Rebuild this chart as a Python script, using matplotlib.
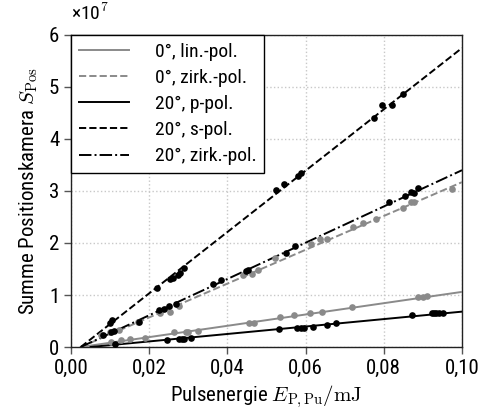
import numpy as np
import matplotlib.pyplot as plt
from matplotlib.ticker import FuncFormatter

plt.rcParams['font.family'] = ['Roboto Condensed', 'Roboto', 'DejaVu Sans']
plt.rcParams['mathtext.fontset'] = 'cm'

# Messwerte (Energie in mJ, Summe in 1e7) --------------------
x_lin0 = [0.0102, 0.0128, 0.0152, 0.0190, 0.0264, 0.0294, 0.0300, 0.0324, 0.0454,
          0.0469, 0.0535, 0.0570, 0.0610, 0.0642, 0.0719, 0.0887, 0.0899, 0.0910]
y_lin0 = [0.10, 0.13, 0.15, 0.18, 0.28, 0.29, 0.29, 0.31, 0.47,
          0.47, 0.57, 0.62, 0.66, 0.67, 0.76, 0.96, 0.97, 0.99]

x_zirk0 = [0.0078, 0.0100, 0.0124, 0.0172, 0.0228, 0.0253, 0.0277, 0.0441, 0.0462,
           0.0479, 0.0522, 0.0613, 0.0637, 0.0656, 0.0720, 0.0748, 0.0780, 0.0848,
           0.0869, 0.0877, 0.0974]
y_zirk0 = [0.23, 0.29, 0.33, 0.49, 0.65, 0.68, 0.78, 1.385, 1.40,
           1.49, 1.71, 1.98, 2.07, 2.07, 2.30, 2.38, 2.46, 2.67,
           2.78, 2.78, 3.03]

x_p20 = [0.0113, 0.0245, 0.0275, 0.0283, 0.0289, 0.0306, 0.0532, 0.0579, 0.0587,
         0.0596, 0.0618, 0.0656, 0.0678, 0.0873, 0.0924, 0.0928, 0.0933, 0.0940,
         0.0952]
y_p20 = [0.05, 0.135, 0.15, 0.15, 0.16, 0.18, 0.34, 0.36, 0.36,
         0.36, 0.39, 0.43, 0.46, 0.61, 0.65, 0.65, 0.65, 0.65,
         0.66]

x_s20 = [0.0100, 0.0104, 0.0220, 0.0254, 0.0260, 0.0273, 0.0280, 0.0290, 0.0524,
         0.0546, 0.0581, 0.0588, 0.0775, 0.0796, 0.0820, 0.0848]
y_s20 = [0.455, 0.52, 1.13, 1.31, 1.32, 1.38, 1.43, 1.51, 3.02,
         3.13, 3.29, 3.34, 4.40, 4.65, 4.65, 4.86]

x_zirk20 = [0.0081, 0.0102, 0.0111, 0.0173, 0.0226, 0.0239, 0.0251, 0.0269, 0.0362,
            0.0384, 0.0448, 0.0452, 0.0550, 0.0573, 0.0814, 0.0854, 0.0869, 0.0876,
            0.0888]
y_zirk20 = [0.23, 0.29, 0.31, 0.49, 0.71, 0.74, 0.78, 0.83, 1.21,
            1.29, 1.47, 1.49, 1.81, 1.94, 2.79, 2.90, 2.99, 2.96,
            3.05]

# Ausgleichsgeraden: Start- und Endpunkt
fit_lin0 = ([0.0025, 0.10], [0.0, 1.06])
fit_zirk0 = ([0.0025, 0.10], [0.0, 3.17])
fit_p20 = ([0.0050, 0.10], [0.0, 0.68])
fit_s20 = ([0.0025, 0.10], [0.0, 5.75])
fit_zirk20 = ([0.0025, 0.10], [0.0, 3.40])

labels = ['0°, lin.-pol.', '0°, zirk.-pol.', '20°, p-pol.', '20°, s-pol.', '20°, zirk.-pol.']
y_ticks = [0, 1, 2, 3, 4, 5, 6]
gray = '#8a8a8a'
serien = [
    (x_lin0, y_lin0, fit_lin0, gray, '-'),
    (x_zirk0, y_zirk0, fit_zirk0, gray, '--'),
    (x_p20, y_p20, fit_p20, 'black', '-'),
    (x_s20, y_s20, fit_s20, 'black', '--'),
    (x_zirk20, y_zirk20, fit_zirk20, 'black', '-.'),
]

fig = plt.figure(figsize=(4.81, 4.2), dpi=100)
ax = fig.add_axes([0.1476, 0.1738, 0.8129, 0.7429])

handles = []
for (xs, ys, fit, col, ls), lab in zip(serien, labels):
    h, = ax.plot(fit[0], fit[1], color=col, linestyle=ls,
                 linewidth=1.4, label=lab, zorder=3)
    ax.plot(xs, ys, linestyle='none', marker='o', markersize=4.8,
            color=col, markeredgewidth=0, zorder=4)
    handles.append(h)

ax.set_xlim(0, 0.1)
ax.set_ylim(0, 6)
ax.set_xticks(np.arange(0, 0.101, 0.02))
ax.set_yticks(y_ticks)
ax.xaxis.set_major_formatter(FuncFormatter(lambda v, p: f'{v:.2f}'.replace('.', ',')))
ax.yaxis.set_major_formatter(FuncFormatter(lambda v, p: f'{v:.0f}'))

# Faktor 1e7 oben links
ax.text(0.0, 1.035, '×10$^{\\mathsf{7}}$', transform=ax.transAxes, fontsize=14,
        va='bottom', ha='left')

ax.tick_params(direction='out', labelsize=15, length=5, width=1, color='#555555')
ax.grid(True, linestyle=':', color='#c8c8c8', linewidth=1)
for s in ax.spines.values():
    s.set_color('#222222')
    s.set_linewidth(1)

ax.set_xlabel('Pulsenergie $E_{\\mathrm{P,Pu}}/\\mathrm{mJ}$', fontsize=15, labelpad=4)
ax.set_ylabel('Summe Positionskamera $S_{\\mathrm{Pos}}$', fontsize=15, labelpad=6)

leg = ax.legend(handles=handles, loc='upper left', borderaxespad=0, fancybox=False,
                framealpha=1, edgecolor='black', fontsize=14, handlelength=2.6,
                labelspacing=0.42, handletextpad=1.3)
leg.get_frame().set_linewidth(1)

fig.savefig('out.png', dpi=100)
